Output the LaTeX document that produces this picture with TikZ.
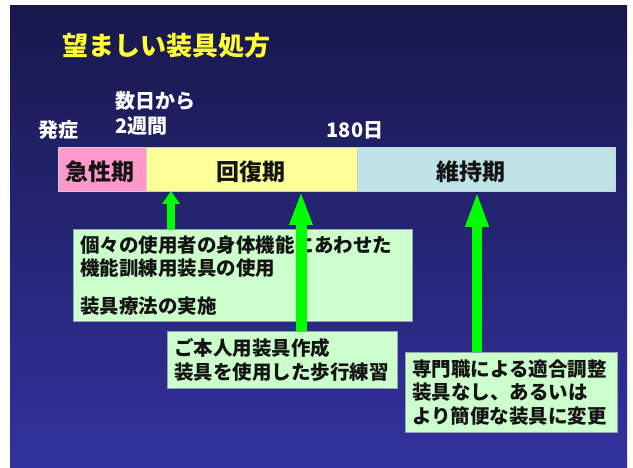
\documentclass[tikz,border=0pt]{standalone}
\usepackage{fontspec}
\setmainfont{Noto Sans CJK JP}
\usetikzlibrary{arrows.meta}
\definecolor{bgtop}{RGB}{24,24,76}
\definecolor{bgbot}{RGB}{50,50,158}
\definecolor{pinkc}{RGB}{255,153,204}
\definecolor{yellowc}{RGB}{255,255,153}
\definecolor{bluec}{RGB}{190,226,230}
\definecolor{boxfill}{RGB}{204,255,204}
\definecolor{boxline}{RGB}{150,160,175}
\definecolor{barline}{RGB}{200,205,215}
\definecolor{titlec}{RGB}{255,255,51}
\definecolor{garrowc}{RGB}{0,255,0}
\definecolor{ink}{RGB}{20,20,20}
\begin{document}
\begin{tikzpicture}[x=1pt,y=-1pt,
  seg/.style={draw=barline, line width=0.6pt, minimum height=44pt, inner sep=0pt, outer sep=0pt, anchor=north west},
  barlabel/.style={font=\fontsize{23}{26}\selectfont\bfseries, text=ink, inner sep=0pt},
  timelabel/.style={font=\fontsize{20}{25}\selectfont\bfseries, text=white, inner sep=0pt, align=left},
  infobox/.style={draw=boxline, fill=boxfill, line width=0.6pt, inner xsep=7pt, inner ysep=3pt, align=left, anchor=north west, text=ink, font=\fontsize{19.5}{23.5}\selectfont\bfseries},
  garrow/.style={draw=garrowc}
]
\useasboundingbox (0,0) rectangle (633,468);
\fill[white] (0,0) rectangle (633,468);
\shade[top color=bgtop, bottom color=bgbot] (10,6) rectangle (627,468);

% title
\node[font=\fontsize{26}{30}\selectfont\bfseries, text=titlec, anchor=west, inner sep=0pt] (title) at (62,46) {望ましい装具処方};

% time labels
\node[timelabel] (onset) at (58,130) {発症};
\node[timelabel, anchor=west] (days) at (115,113.5) {数日から\\2週間};
\node[timelabel] (d180) at (355,130) {180日};

% bar
\node[seg, fill=pinkc, minimum width=88pt] (acute) at (58,147) {};
\node[seg, fill=yellowc, minimum width=211pt] (recov) at (146,147) {};
\node[seg, fill=bluec, minimum width=258pt] (maint) at (357,147) {};
\node[barlabel] (lacute) at (100,172) {急性期};
\node[barlabel] (lrecov) at (251,172) {回復期};
\node[barlabel] (lmaint) at (471,172) {維持期};

% boxes
\node[infobox, text width=325pt, minimum height=92pt] (b1) at (73,229)
  {個々の使用者の身体機能にあわせた\\機能訓練用装具の使用\\[14pt]装具療法の実施};
\node[infobox, text width=216pt, minimum height=57pt] (b2) at (167,331)
  {ご本人用装具作成\\装具を使用した歩行練習};
\node[infobox, text width=198pt, minimum height=80pt] (b3) at (405,352)
  {専門職による適合調整\\装具なし、あるいは\\より簡便な装具に変更};

% arrows
\coordinate (t1) at (171,191);
\coordinate (t2) at (301,191);
\coordinate (t3) at (477,191);
\draw[garrow, line width=8pt, -{Triangle[length=13pt,width=17pt]}] (b1.north -| t1) -- (t1);
\draw[garrow, line width=11pt, -{Triangle[length=34pt,width=21pt]}] (b2.north -| t2) -- (t2);
\draw[garrow, line width=10pt, -{Triangle[length=36pt,width=21pt]}] (b3.north -| t3) -- (t3);
\end{tikzpicture}
\end{document}
